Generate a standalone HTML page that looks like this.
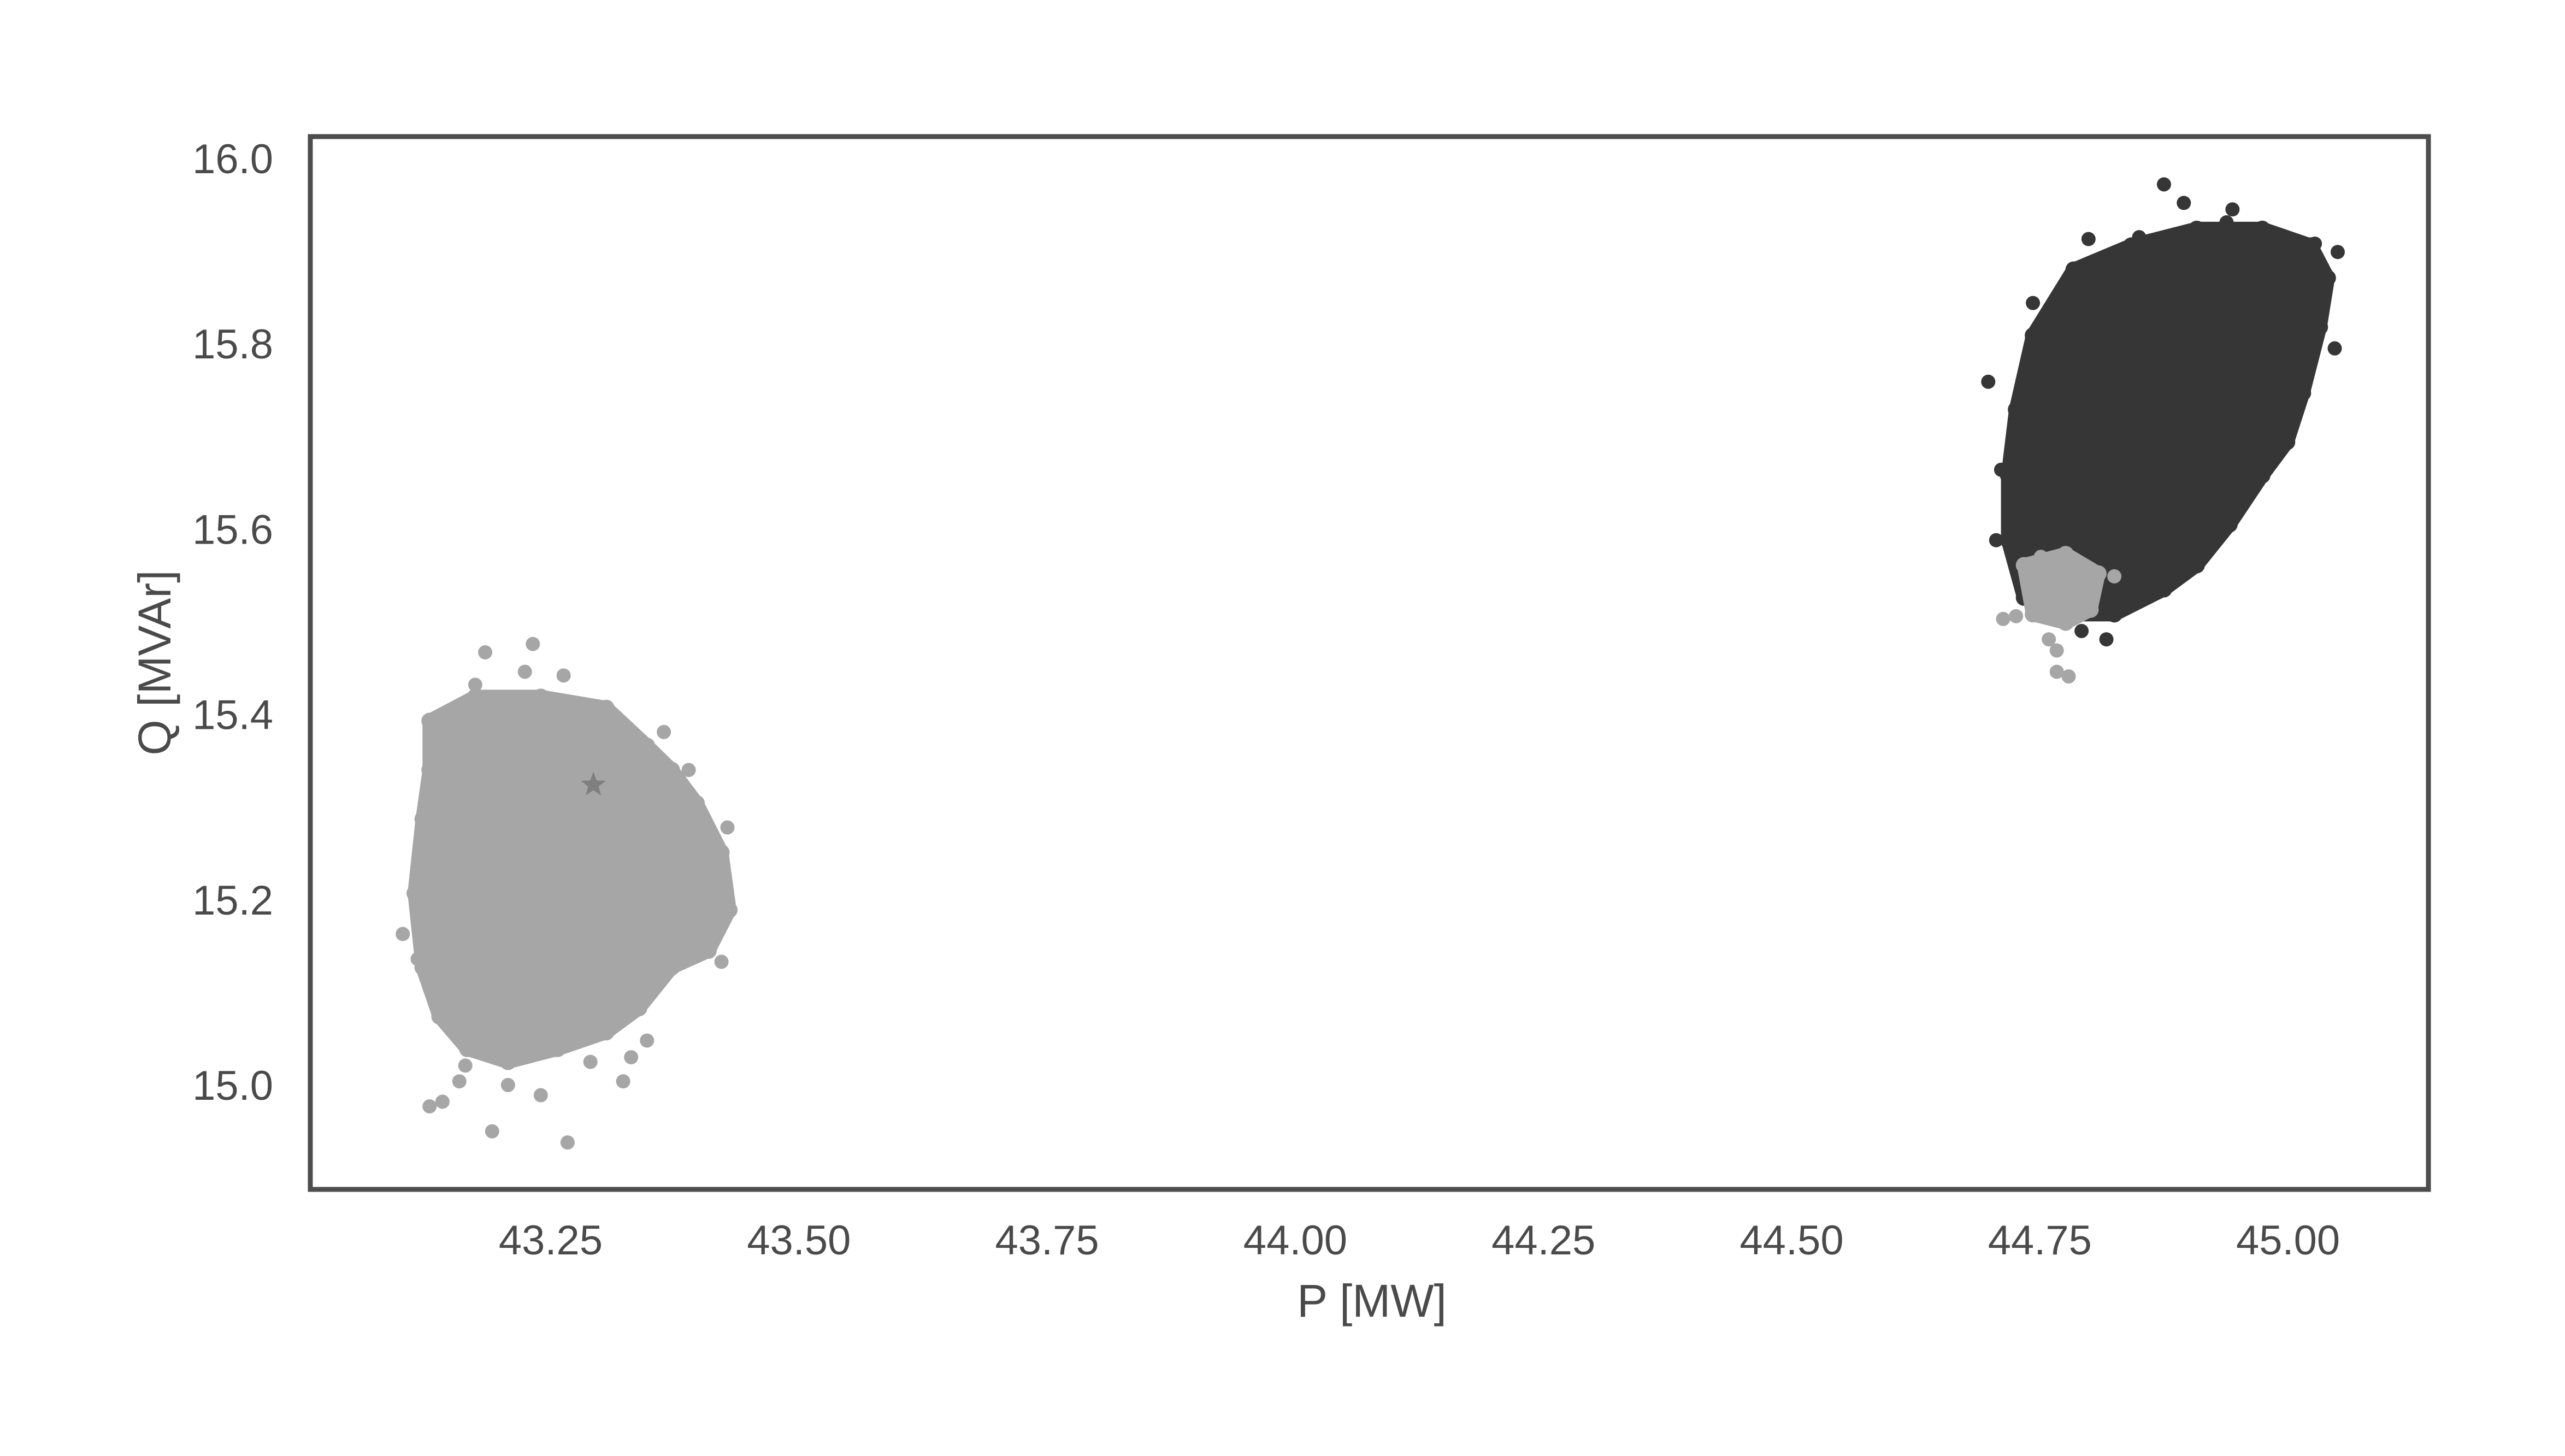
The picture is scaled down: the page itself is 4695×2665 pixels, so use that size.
<!DOCTYPE html>
<html><head><meta charset="utf-8"><style>
html,body{margin:0;padding:0;background:#fff}
svg{display:block}
text{font-family:"Liberation Sans",Arial,sans-serif;fill:#4a4a4a}
</style></head><body>
<svg id="chart" width="4695" height="2665" viewBox="0 0 4695 2665" xmlns="http://www.w3.org/2000/svg">
<rect x="0" y="0" width="4695" height="2665" fill="#fff"/>
<g id="marks"></g>
<rect x="568" y="250" width="3877" height="1927" fill="none" stroke="#4d4d4d" stroke-width="9"/>
<g id="xticks"></g>
<g id="yticks"></g>
<text x="2511" y="2410" font-size="84" text-anchor="middle">P [MW]</text>
<text x="0" y="0" font-size="84" text-anchor="middle" transform="translate(312,1213) rotate(-90)">Q [MVAr]</text>
</svg>
<script>
const xTicks = [43.25, 43.50, 43.75, 44.00, 44.25, 44.50, 44.75, 45.00];
const xTickLabels = ["43.25","43.50","43.75","44.00","44.25","44.50","44.75","45.00"];
const yTicks = [15.0, 15.2, 15.4, 15.6, 15.8, 16.0];
const yTickLabels = ["15.0","15.2","15.4","15.6","15.8","16.0"];

const leftCoreP = [43.128,43.174,43.240,43.306,43.347,43.372,43.397,43.422,43.430,43.409,43.372,43.339,43.306,43.257,43.207,43.166,43.138,43.121,43.113,43.121,43.128];
const leftCoreQ = [15.393,15.419,15.419,15.407,15.366,15.340,15.304,15.251,15.189,15.145,15.127,15.083,15.057,15.039,15.025,15.039,15.074,15.127,15.207,15.287,15.340];
const leftOutP = [43.101,43.116,43.128,43.141,43.191,43.267,43.184,43.232,43.174,43.422,43.428,43.417,43.364,43.323,43.290,43.240,43.158,43.224,43.263,43.141,43.389,43.331,43.207,43.164,43.347];
const leftOutQ = [15.163,15.136,14.977,14.982,14.950,14.938,15.467,15.476,15.432,15.133,15.278,15.216,15.381,15.004,15.025,14.989,15.004,15.446,15.442,15.393,15.340,15.030,15.000,15.021,15.048];

const darkCoreP = [44.743,44.784,44.842,44.908,44.974,45.023,45.040,45.032,45.015,44.999,44.974,44.941,44.908,44.875,44.825,44.776,44.734,44.718,44.718,44.726];
const darkCoreQ = [15.809,15.880,15.906,15.924,15.924,15.906,15.871,15.818,15.747,15.694,15.658,15.605,15.561,15.535,15.508,15.508,15.526,15.588,15.658,15.729];
const darkOutP = [44.875,44.895,44.850,44.799,44.944,44.938,45.027,45.050,45.047,44.743,44.698,44.711,44.706,44.817,44.792,45.007,44.984,44.911,44.761,45.007];
const darkOutQ = [15.972,15.952,15.915,15.913,15.945,15.931,15.908,15.899,15.795,15.844,15.759,15.664,15.588,15.481,15.490,15.747,15.673,15.584,15.779,15.862];

const grayCoreP = [44.734,44.776,44.809,44.801,44.776,44.743];
const grayCoreQ = [15.561,15.573,15.552,15.513,15.499,15.508];
const grayOutP = [44.713,44.726,44.759,44.767,44.767,44.779,44.796,44.751,44.825];
const grayOutQ = [15.503,15.506,15.481,15.469,15.446,15.441,15.513,15.570,15.549];

const starP = [43.293];
const starQ = [15.324];

const NS = "http://www.w3.org/2000/svg";
function xs(v){ return 1008 + (v - 43.25) / 0.25 * 454.3; }
function ys(v){ return 290 + (16 - v) / 0.2 * 339.2; }

const marks = document.getElementById('marks');
function hull(P, Q, color, name){
  const pts = P.map((p,i)=> xs(p).toFixed(1)+","+ys(Q[i]).toFixed(1)).join(" ");
  const pg = document.createElementNS(NS,'polygon');
  pg.setAttribute('points', pts);
  pg.setAttribute('fill', color);
  pg.setAttribute('stroke', color);
  pg.setAttribute('stroke-width', '26');
  pg.setAttribute('stroke-linejoin', 'round');
  
  
  marks.appendChild(pg);
  P.forEach((p,i)=>{
    const c = document.createElementNS(NS,'circle');
    c.setAttribute('cx', xs(p)); c.setAttribute('cy', ys(Q[i])); c.setAttribute('r', 15);
    c.setAttribute('fill', color);
    
    
    marks.appendChild(c);
  });
}
function dots(P, Q, color){
  P.forEach((p,i)=>{
    const c = document.createElementNS(NS,'circle');
    c.setAttribute('cx', xs(p)); c.setAttribute('cy', ys(Q[i])); c.setAttribute('r', 13);
    c.setAttribute('fill', color);
    
    
    marks.appendChild(c);
  });
}
const DARK = "#363636", GRAY = "#a6a6a6";
hull(darkCoreP, darkCoreQ, DARK, 'dark-cluster-core');
dots(darkOutP, darkOutQ, DARK);
hull(leftCoreP, leftCoreQ, GRAY, 'gray-cluster-core');
dots(leftOutP, leftOutQ, GRAY);
hull(grayCoreP, grayCoreQ, GRAY, 'gray-subcluster-core');
dots(grayOutP, grayOutQ, GRAY);

starP.forEach((p,i)=>{
  const cx = xs(p), cy = ys(starQ[i]), R = 24, r = 10;
  let d = "";
  for(let k=0;k<10;k++){
    const a = -Math.PI/2 + k*Math.PI/5, rr = k%2 ? r : R;
    d += (k?"L":"M") + (cx + rr*Math.cos(a)).toFixed(1) + "," + (cy + rr*Math.sin(a)).toFixed(1);
  }
  const s = document.createElementNS(NS,'path');
  s.setAttribute('d', d + "Z");
  s.setAttribute('fill', '#7f7f7f');
  
  
  marks.appendChild(s);
});

const xg = document.getElementById('xticks');
xTicks.forEach((v,i)=>{
  const t = document.createElementNS(NS,'text');
  t.setAttribute('x', xs(v)); t.setAttribute('y', 2296);
  t.setAttribute('font-size', 76); t.setAttribute('text-anchor', 'middle');
  t.textContent = xTickLabels[i];
  
  
  xg.appendChild(t);
});
const yg = document.getElementById('yticks');
yTicks.forEach((v,i)=>{
  const t = document.createElementNS(NS,'text');
  t.setAttribute('x', 500); t.setAttribute('y', ys(v) + 27);
  t.setAttribute('font-size', 76); t.setAttribute('text-anchor', 'end');
  t.textContent = yTickLabels[i];
  
  
  yg.appendChild(t);
});
</script>
</body></html>
